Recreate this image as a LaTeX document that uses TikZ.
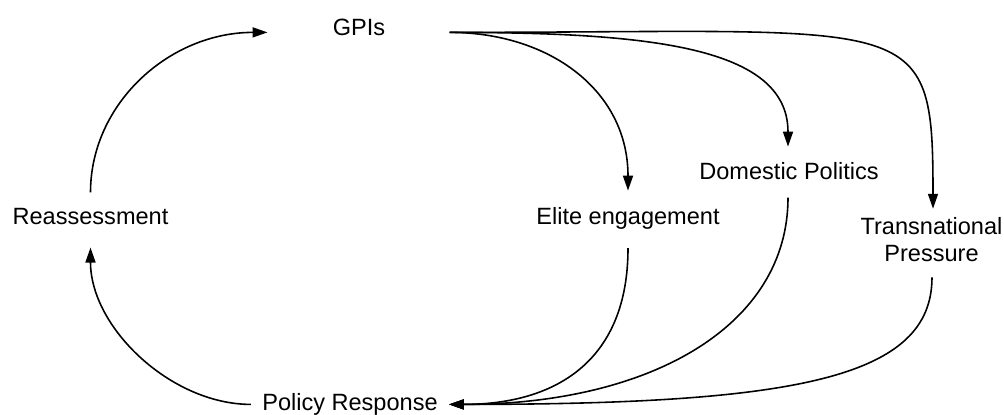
\documentclass[tikz,border=0pt]{standalone}
\usepackage{fontspec}
\setmainfont{Liberation Sans}
\usetikzlibrary{arrows.meta,calc}
\begin{document}
\begin{tikzpicture}[x=0.02cm,y=-0.02cm,
    lbl/.style={inner sep=0pt,anchor=base,font=\fontsize{13.4}{15.7}\selectfont},
    flow/.style={line width=0.9pt,-{Triangle[length=8.5pt,width=5.7pt]}}]
    \useasboundingbox (0,0) rectangle (1004,415);

    \node[lbl] (gpis) at (359,36) {GPIs};
    \node[lbl] (reass) at (90.5,225) {Reassessment};
    \node[lbl] (elite) at (628,224.5) {Elite engagement};
    \node[lbl] (domestic) at (789,180) {Domestic Politics};
    \node[lbl,align=center] (trans) at (931.5,261.7) {Transnational\\Pressure};
    \node[lbl] (policy) at (350,410) {Policy Response};

    \draw[flow] ($(reass.north)+(0,-16)$) .. controls +(0,-89) and +(-98,0) .. ($(gpis.west)+(-65,4.5)$);
    \draw[flow] ($(policy.west)+(-11,0.5)$) .. controls +(-80,0) and +(0,80) .. ($(reass.south)+(0,22)$);

    \draw[flow] ($(gpis.east)+(64,4.5)$) .. controls +(100,0) and +(0,-100) .. ($(elite.north)+(0,-16.5)$);
    \draw[flow] ($(gpis.east)+(64,4.5)$) .. controls +(200,0) and +(0,-100) .. ($(domestic.north)+(-1,-16)$);
    \draw[flow] ($(gpis.east)+(64,4.5)$) .. controls +(470,0) and +(0,-200) .. ($(trans.north)+(1.5,-8)$);

    \draw[flow] ($(elite.south)+(0,18.5)$) .. controls +(0,110) and +(110,0) .. ($(policy.east)+(11,0.5)$);
    \draw[flow] ($(domestic.south)+(-1,17)$) .. controls +(0,128) and +(202,0) .. ($(policy.east)+(11,0.5)$);
    \draw[flow] ($(trans.south)+(0.5,15)$) .. controls +(0,100) and +(350,0) .. ($(policy.east)+(11,0.5)$);
\end{tikzpicture}
\end{document}
